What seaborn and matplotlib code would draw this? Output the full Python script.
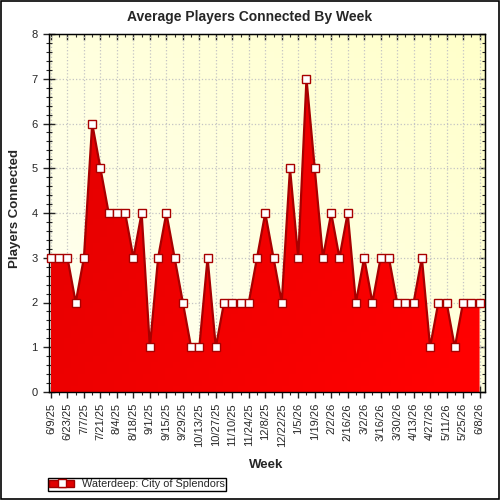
import numpy as np
import pandas as pd
import matplotlib
matplotlib.use("Agg")
import matplotlib.pyplot as plt
import seaborn as sns
from matplotlib.lines import Line2D
from matplotlib.patches import Rectangle, Patch
from matplotlib.ticker import MultipleLocator

# weekly averages (one value per week starting 6/9/25)
weeks = pd.date_range("2025-06-09", periods=53, freq="7D")
players = [3, 3, 3, 2, 3, 6, 5, 4, 4, 4, 3, 4, 1, 3, 4, 3, 2, 1, 1, 3, 1, 2, 2, 2, 2, 3, 4,
           3, 2, 5, 3, 7, 5, 3, 4, 3, 4, 2, 3, 2, 3, 3, 2, 2, 2, 3, 1, 2, 2, 1, 2, 2, 2]
week_labels = [f"{d.month}/{d.day}/{d.strftime('%y')}" for d in weeks]
series_name = "Waterdeep: City of Splendors"
title = "Average Players Connected By Week"

df = pd.DataFrame({"week": np.arange(len(players)), "players": players})

sns.set_style("ticks")
plt.rcParams["font.family"] = ["Liberation Sans", "DejaVu Sans"]

fig = plt.figure(figsize=(5, 5), dpi=100)
ax = fig.add_axes([0.097, 0.216, 0.872, 0.716])
xlim = (-0.3, 52.6)
ylim = (0, 8)

# light yellow gradient background
gx, gy = np.meshgrid(np.linspace(0, 1, 60), np.linspace(0, 1, 60))
t = (gx + gy) / 2
bg = np.dstack([np.ones_like(t), np.ones_like(t), 0.96 - 0.17 * t])
ax.imshow(bg, extent=[*xlim, *ylim], aspect="auto", origin="lower", zorder=0)

ax.grid(True, which="major", linestyle=":", color="#c4c4c4", linewidth=0.9, zorder=1)

# red area with a subtle gradient
poly = ax.fill_between(df["week"], 0, df["players"], color="none", lw=0, zorder=2)
red = np.dstack([np.clip(0.88 + 0.08 * gx + 0.05 * (1 - gy), 0, 1),
                 np.zeros_like(t), np.zeros_like(t)])
im = ax.imshow(red, extent=[*xlim, *ylim], aspect="auto", origin="lower", zorder=2)
im.set_clip_path(poly.get_paths()[0], transform=ax.transData)

sns.lineplot(data=df, x="week", y="players", ax=ax, color="#a80000", lw=1.6,
             marker="s", markersize=5.5, markerfacecolor="white",
             markeredgecolor="#a80000", markeredgewidth=1, zorder=3, clip_on=False)

ax.set_xlim(*xlim)
ax.set_ylim(*ylim)
ax.set_xlabel("")
ax.set_ylabel("")

ax.set_xticks(range(0, len(players), 2))
ax.set_xticklabels(week_labels[::2], rotation=90)
ax.set_xticks(range(len(players)), minor=True)
ax.set_yticks(range(0, 9))
ax.yaxis.set_minor_locator(MultipleLocator(0.2))
ax.tick_params(which="major", direction="inout", length=8, width=1, labelsize=8, pad=4)
ax.tick_params(which="minor", direction="inout", length=5, width=0.8)
for s in ax.spines.values():
    s.set_linewidth(1)
    s.set_color("black")
    s.set_visible(True)

secx = ax.secondary_xaxis("top")
secx.set_xticks(range(0, len(players), 2))
secx.set_xticks(range(len(players)), minor=True)
secx.tick_params(which="major", direction="in", length=4, width=1, labeltop=False)
secx.tick_params(which="minor", direction="in", length=2.5, width=0.8)
secy = ax.secondary_yaxis("right")
secy.set_yticks(range(0, 9))
secy.yaxis.set_minor_locator(MultipleLocator(0.2))
secy.tick_params(which="major", direction="in", length=4, width=1, labelright=False)
secy.tick_params(which="minor", direction="in", length=2.5, width=0.8)

fig.text(0.5, 0.966, title, ha="center", va="center", fontsize=10, fontweight="bold")
fig.text(0.03, 0.582, "Players Connected", ha="center", va="center", rotation=90,
         fontsize=9.5, fontweight="bold")
fig.text(0.532, 0.07, "Week", ha="center", va="center", fontsize=9.5, fontweight="bold")

bar = Patch(facecolor="#e00000", edgecolor="#a00000", linewidth=1)
mark = Line2D([0], [0], linestyle="none", marker="s", markersize=5.5,
              markerfacecolor="white", markeredgecolor="#a80000", markeredgewidth=1)
leg = fig.legend(handles=[(bar, mark)], labels=[series_name], loc="lower left",
                 bbox_to_anchor=(0.096, 0.019), frameon=True, fancybox=False,
                 edgecolor="black", fontsize=7.8, borderpad=0.12, handlelength=2.3,
                 handleheight=0.65, handletextpad=0.7, borderaxespad=0)
leg.get_frame().set_linewidth(1)
leg.get_frame().set_alpha(1)

fig.patches.append(Rectangle((0.002, 0.002), 0.996, 0.996, transform=fig.transFigure,
                             fill=False, edgecolor="black", linewidth=1.2))

fig.savefig("out.png", dpi=100)
